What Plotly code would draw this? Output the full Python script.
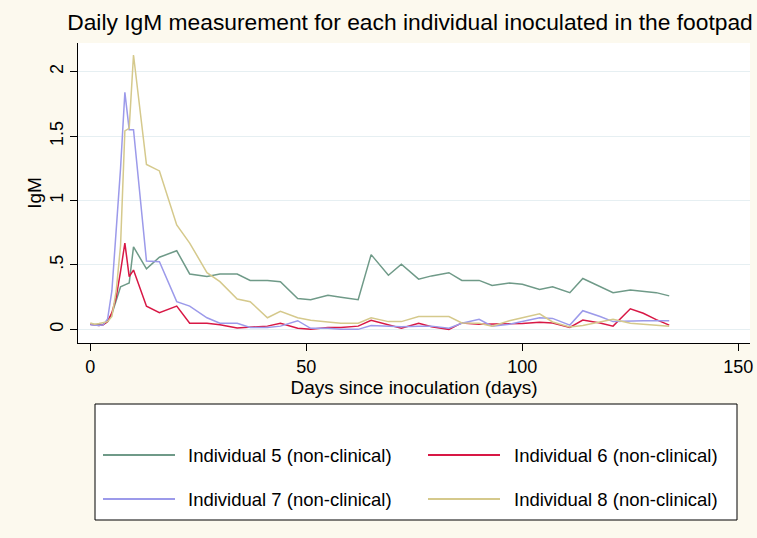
import plotly.graph_objects as go

# ---- data ----
days = [0, 1, 2, 3, 4, 5, 6, 7, 8, 9, 10, 13, 16, 20, 23, 27, 30, 34, 37, 41, 44,
        48, 51, 55, 58, 62, 65, 69, 72, 76, 79, 83, 86, 90, 93, 97, 100, 104, 107,
        111, 114, 118, 121, 125, 128, 131, 134]

ind5 = [0.04, 0.035, 0.035, 0.04, 0.06, 0.12, 0.22, 0.33, 0.345, 0.36, 0.64,
        0.47, 0.56, 0.61, 0.43, 0.41, 0.43, 0.43, 0.38, 0.38, 0.37,
        0.24, 0.23, 0.265, 0.25, 0.23, 0.58, 0.42, 0.505, 0.39, 0.415,
        0.44, 0.38, 0.38, 0.34, 0.36, 0.35, 0.31, 0.33, 0.285, 0.395,
        0.335, 0.285, 0.305, 0.295, 0.285, 0.26]

ind6 = [0.04, 0.035, 0.03, 0.035, 0.06, 0.13, 0.25, 0.45, 0.67, 0.41, 0.46,
        0.18, 0.13, 0.18, 0.047, 0.047, 0.035, 0.01, 0.015, 0.025, 0.047,
        0.008, 0.0, 0.015, 0.015, 0.025, 0.07, 0.033, 0.008, 0.047, 0.02,
        0.0, 0.05, 0.04, 0.04, 0.04, 0.045, 0.055, 0.05, 0.015, 0.072,
        0.05, 0.025, 0.16, 0.125, 0.075, 0.033]

ind7 = [0.035, 0.03, 0.03, 0.035, 0.08, 0.3, 0.75, 1.25, 1.84, 1.55, 1.55,
        0.53, 0.525, 0.215, 0.18, 0.09, 0.047, 0.047, 0.015, 0.015, 0.025,
        0.067, 0.008, 0.008, 0.0, 0.0, 0.03, 0.025, 0.02, 0.025, 0.025,
        0.008, 0.047, 0.078, 0.025, 0.04, 0.06, 0.09, 0.085, 0.033, 0.145,
        0.1, 0.06, 0.067, 0.067, 0.067, 0.067]

ind8 = [0.05, 0.04, 0.045, 0.05, 0.06, 0.1, 0.3, 0.65, 1.54, 1.56, 2.13,
        1.28, 1.23, 0.81, 0.67, 0.44, 0.37, 0.235, 0.215, 0.09, 0.14,
        0.09, 0.07, 0.057, 0.047, 0.047, 0.09, 0.06, 0.06, 0.1, 0.1,
        0.1, 0.05, 0.047, 0.025, 0.067, 0.09, 0.12, 0.057, 0.018, 0.03,
        0.055, 0.078, 0.047, 0.04, 0.033, 0.025]

series_names = ["Individual 5 (non-clinical)", "Individual 6 (non-clinical)",
                "Individual 7 (non-clinical)", "Individual 8 (non-clinical)"]
series_values = [ind5, ind6, ind7, ind8]
series_colors = ["#6F9A88", "#D81845", "#9C9AEA", "#D5C98C"]

y_tickvals = [0, 0.5, 1, 1.5, 2]
y_ticktext = ["0", ".5", "1", "1.5", "2"]
x_tickvals = [0, 50, 100, 150]

# ---- layout geometry (pixels) ----
W, H = 757, 538
ML, MR, MT, MB = 78, 7, 43, 195
PW, PH = W - ML - MR, H - MT - MB
FONT = "Liberation Sans, Arial, sans-serif"
BG = "#FCF9EE"


def px(x):
    return (x - ML) / PW


def py(y):
    return (H - MB - y) / PH


fig = go.Figure()
for name, vals, col in zip(series_names, series_values, series_colors):
    fig.add_trace(go.Scatter(x=days, y=vals, mode="lines", name=name,
                             line=dict(color=col, width=1.5), showlegend=False))

fig.update_layout(
    width=W, height=H,
    margin=dict(l=ML, r=MR, t=MT, b=MB, autoexpand=False),
    paper_bgcolor=BG, plot_bgcolor="white",
    font=dict(family=FONT, color="black", size=18),
    title=dict(text="Daily IgM measurement for each individual inoculated in the footpad",
               x=px(410), xref="paper", xanchor="center",
               y=1 - 22 / H, yref="container", yanchor="middle",
               font=dict(size=22.8, color="black", family=FONT)),
    xaxis=dict(range=[-2.85, 152.7], tickvals=x_tickvals, showgrid=False,
               zeroline=False, showline=True, linecolor="black", linewidth=1,
               ticks="outside", ticklen=7, tickcolor="black", automargin=False,
               tickfont=dict(size=18),
               title=dict(text="Days since inoculation (days)", standoff=2,
                          font=dict(size=19))),
    yaxis=dict(range=[-0.106, 2.223], tickvals=y_tickvals, ticktext=y_ticktext,
               tickangle=-90, showgrid=True, gridcolor="#E6EFF2", gridwidth=1,
               zeroline=False, showline=True, linecolor="black", linewidth=1,
               ticks="outside", ticklen=7, tickcolor="black", automargin=False,
               tickfont=dict(size=18),
               title=dict(text="IgM", standoff=0, font=dict(size=19))),
)

# ---- manual legend (Stata-style box) ----
shapes = [dict(type="rect", xref="paper", yref="paper",
               x0=px(95), x1=px(737), y0=py(520), y1=py(404),
               line=dict(color="black", width=1), fillcolor="white", layer="below")]
annos = []
entries = [(0, 103, 186, 455), (1, 428, 512, 455), (2, 103, 186, 499), (3, 428, 512, 499)]
for idx, lx, tx, ly in entries:
    shapes.append(dict(type="line", xref="paper", yref="paper",
                       x0=px(lx), x1=px(lx + 72), y0=py(ly), y1=py(ly),
                       line=dict(color=series_colors[idx], width=2)))
    annos.append(dict(text=series_names[idx], xref="paper", yref="paper",
                      x=px(tx), y=py(ly), xanchor="left", yanchor="middle",
                      showarrow=False, font=dict(size=18.5, color="black", family=FONT)))
fig.update_layout(shapes=shapes, annotations=annos)

fig.write_html("out.html", config={"displayModeBar": False},
               post_script="document.body.style.margin='0';document.body.style.background='%s';" % BG)
